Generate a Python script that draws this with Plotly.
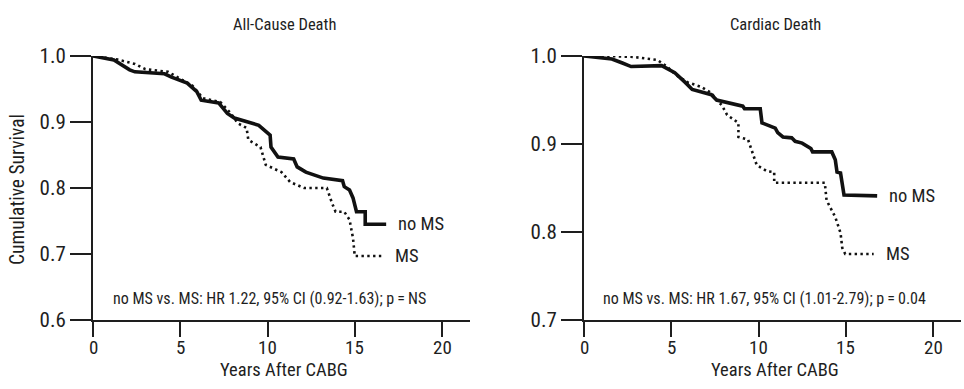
import plotly.graph_objects as go

# Kaplan-Meier style survival estimates (years after CABG, cumulative survival)
all_nms_t = [0, 1.2, 2.1, 2.4, 4.1, 4.5, 5.4, 5.95, 6.2, 7.2, 7.7, 8.1, 9.5, 10.15, 10.2, 10.6, 11.5, 11.7,
             12.2, 13.2, 14.3, 14.4, 14.7, 14.9, 15.1, 15.6, 15.6, 16.8]
all_nms_s = [1.0, 0.994, 0.979, 0.976, 0.973, 0.968, 0.959, 0.946, 0.933, 0.929, 0.913, 0.906, 0.895, 0.880,
             0.862, 0.847, 0.844, 0.832, 0.824, 0.815, 0.811, 0.802, 0.797, 0.785, 0.764, 0.764, 0.745, 0.745]

all_ms_t = [0, 1.35, 2.4, 3.0, 4.3, 4.9, 5.7, 6.3, 7.3, 7.9, 8.3, 8.8, 8.9, 9.6, 9.9, 10.8, 11.3, 12.1,
            13.4, 13.7, 13.9, 14.4, 14.7, 14.9, 15.0, 16.6]
all_ms_s = [1.0, 0.995, 0.988, 0.980, 0.976, 0.967, 0.955, 0.936, 0.930, 0.913, 0.898, 0.891, 0.873, 0.862,
            0.835, 0.824, 0.809, 0.800, 0.800, 0.777, 0.764, 0.764, 0.752, 0.724, 0.697, 0.697]

card_nms_t = [0, 1.6, 2.2, 2.7, 4.45, 5.2, 5.8, 6.2, 7.3, 7.6, 9.1, 9.2, 10.1, 10.2, 10.96, 11.1, 11.4, 11.9,
              12.1, 12.5, 13.0, 13.1, 14.2, 14.4, 14.5, 14.7, 14.9, 16.8]
card_nms_s = [1.0, 0.9966, 0.992, 0.988, 0.989, 0.981, 0.970, 0.962, 0.956, 0.950, 0.943, 0.940, 0.940, 0.924,
              0.918, 0.913, 0.908, 0.907, 0.903, 0.901, 0.895, 0.891, 0.891, 0.882, 0.868, 0.867, 0.842, 0.841]

card_ms_t = [0, 1.3, 2.8, 4.15, 4.2, 4.75, 5.3, 5.95, 6.7, 7.3, 7.6, 7.9, 8.2, 8.85, 8.85, 9.4, 9.6, 9.9, 10.5,
             10.9, 10.9, 13.8, 13.9, 14.2, 14.4, 14.7, 14.8, 14.97, 16.6]
card_ms_s = [1.0, 1.0, 0.999, 0.996, 0.9955, 0.988, 0.978, 0.970, 0.965, 0.958, 0.950, 0.944, 0.933, 0.924,
             0.908, 0.905, 0.893, 0.876, 0.869, 0.868, 0.856, 0.856, 0.836, 0.825, 0.817, 0.799, 0.782, 0.775,
             0.775]

panel_titles = ["All-Cause Death", "Cardiac Death"]
hr_texts = ["no MS vs. MS: HR 1.22, 95% CI (0.92-1.63); p\u2009=\u2009NS",
            "no MS vs. MS: HR 1.67, 95% CI (1.01-2.79); p\u2009=\u20090.04"]
x_ticks = [0, 5, 10, 15, 20]
left_y_ticks = [0.6, 0.7, 0.8, 0.9, 1.0]
right_y_ticks = [0.7, 0.8, 0.9, 1.0]

W, H = 964, 389
FONT = "Liberation Sans Narrow, Arial Narrow, Roboto Condensed, Liberation Sans, Arial, sans-serif"
INK = "#1e1e1e"

fig = go.Figure()

solid = dict(color="#111111", width=3.6)
dotted = dict(color="#111111", width=2.6, dash="2.4px,3.4px")

fig.add_trace(go.Scatter(x=all_nms_t, y=all_nms_s, mode="lines", line=solid, xaxis="x", yaxis="y"))
fig.add_trace(go.Scatter(x=all_ms_t, y=all_ms_s, mode="lines", line=dotted, xaxis="x", yaxis="y"))
fig.add_trace(go.Scatter(x=card_nms_t, y=card_nms_s, mode="lines", line=solid, xaxis="x2", yaxis="y2"))
fig.add_trace(go.Scatter(x=card_ms_t, y=card_ms_s, mode="lines", line=dotted, xaxis="x2", yaxis="y2"))

px_per_year = 17.45
left0, right0 = 93, 584
x_span = 21.6
ydom = [1 - 320 / H, 1 - 56 / H]

# x tick labels are written as annotations below the long tick marks
xcommon = dict(range=[0, x_span], tickvals=x_ticks, ticks="outside", ticklen=15, tickwidth=2,
               tickcolor=INK, showline=True, linewidth=2, linecolor=INK, showgrid=False, zeroline=False,
               showticklabels=False)
ycommon = dict(ticks="outside", ticklen=21, tickwidth=2, tickcolor=INK, showline=True, linewidth=2,
               linecolor=INK, showgrid=False, zeroline=False, tickformat=".1f",
               tickfont=dict(family=FONT, size=21, color=INK))

fig.update_layout(
    width=W, height=H, margin=dict(l=0, r=0, t=0, b=0, autoexpand=False),
    paper_bgcolor="white", plot_bgcolor="white", showlegend=False,
    xaxis=dict(domain=[left0 / W, (left0 + px_per_year * x_span) / W], anchor="y", **xcommon),
    yaxis=dict(domain=ydom, range=[0.6, 1.0], tickvals=left_y_ticks, anchor="x", **ycommon),
    xaxis2=dict(domain=[right0 / W, (right0 + px_per_year * x_span) / W], anchor="y2", **xcommon),
    yaxis2=dict(domain=ydom, range=[0.7, 1.0], tickvals=right_y_ticks, anchor="x2", **ycommon),
)

ann = []
def text(x, y, s, size, **kw):
    ann.append(dict(x=x / W, y=1 - y / H, xref="paper", yref="paper", text=s, showarrow=False,
                    xanchor="center", yanchor="middle",
                    font=dict(family=FONT, size=size, color=INK), **kw))

for cx, t in zip([284, 775], panel_titles):
    text(cx, 25, t, 16.5)
for cx in [284, 775]:
    text(cx, 370, "Years After CABG", 18.5)
text(18, 190, "Cumulative Survival", 19.5, textangle=-90)
text(269, 298, hr_texts[0], 16)
text(764, 298, hr_texts[1], 16)

for xa in ["x", "x2"]:
    for v in x_ticks:
        ann.append(dict(x=v, y=1 - 347 / H, xref=xa, yref="paper", text=str(v), showarrow=False,
                        xanchor="center", yanchor="middle", font=dict(family=FONT, size=19, color=INK)))

# curve labels placed just right of each curve's last estimate
def end_label(xa, ya, t, s, label):
    ann.append(dict(x=t[-1], y=s[-1], xref=xa, yref=ya, text=label, showarrow=False, xanchor="left",
                    yanchor="middle", xshift=10, font=dict(family=FONT, size=18.5, color=INK)))

end_label("x", "y", all_nms_t, all_nms_s, "no MS")
end_label("x", "y", all_ms_t, all_ms_s, "MS")
end_label("x2", "y2", card_nms_t, card_nms_s, "no MS")
end_label("x2", "y2", card_ms_t, card_ms_s, "MS")

fig.update_layout(annotations=ann)
fig.write_html("out.html")
